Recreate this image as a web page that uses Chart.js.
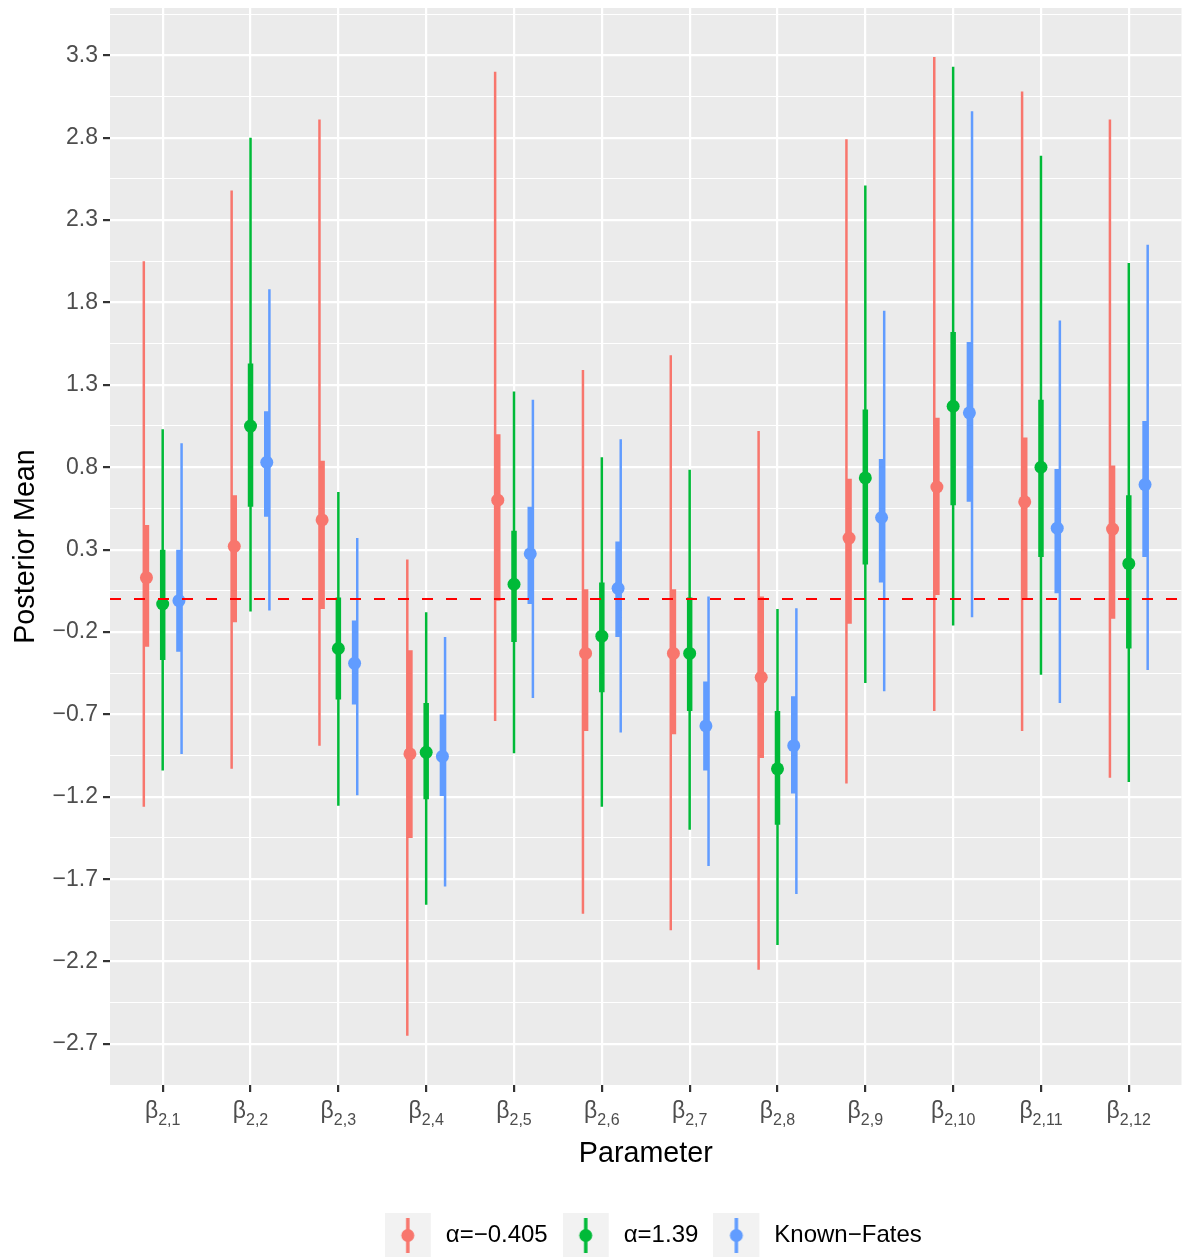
<!DOCTYPE html>
<html>
<head>
<meta charset="utf-8">
<script src="https://cdn.jsdelivr.net/npm/chart.js@4.4.1/dist/chart.umd.min.js"></script>
<style>
html, body { margin: 0; padding: 0; background: #fff; }
</style>
</head>
<body>
<canvas id="myChart" width="1188" height="1258"></canvas>
<script>
// parameter subscripts (beta_{2,k})
const params = ["2,1", "2,2", "2,3", "2,4", "2,5", "2,6", "2,7", "2,8", "2,9", "2,10", "2,11", "2,12"];
const seriesNames = ["α=−0.405", "α=1.39", "Known−Fates"];
const seriesColors = ["#F8766D", "#00BA38", "#619CFF"];

// alpha = -0.405
const redMean = [0.13, 0.32, 0.48, -0.94, 0.60, -0.33, -0.33, -0.475, 0.37, 0.68, 0.59, 0.425];
const redLo50 = [-0.29, -0.14, -0.06, -1.45, -0.01, -0.80, -0.82, -0.965, -0.15, 0.025, 0.005, -0.12];
const redHi50 = [0.45, 0.63, 0.84, -0.31, 1.00, 0.06, 0.06, 0.015, 0.73, 1.10, 0.98, 0.81];
const redLo95 = [-1.26, -1.03, -0.89, -2.65, -0.74, -1.91, -2.01, -2.25, -1.12, -0.68, -0.80, -1.085];
const redHi95 = [2.05, 2.48, 2.91, 0.24, 3.20, 1.39, 1.48, 1.02, 2.79, 3.29, 3.08, 2.91];

// alpha = 1.39
const greenMean = [-0.03, 1.05, -0.30, -0.93, 0.09, -0.225, -0.33, -1.03, 0.735, 1.17, 0.80, 0.215];
const greenLo50 = [-0.37, 0.56, -0.61, -1.215, -0.26, -0.565, -0.68, -1.37, 0.21, 0.57, 0.255, -0.30];
const greenHi50 = [0.30, 1.43, 0.01, -0.63, 0.415, 0.10, 0.01, -0.68, 1.15, 1.62, 1.21, 0.63];
const greenLo95 = [-1.04, -0.075, -1.255, -1.855, -0.935, -1.26, -1.40, -2.10, -0.51, -0.16, -0.46, -1.11];
const greenHi95 = [1.03, 2.80, 0.65, -0.08, 1.26, 0.86, 0.785, -0.06, 2.51, 3.23, 2.69, 2.04];

// known fates
const blueMean = [-0.01, 0.83, -0.39, -0.955, 0.275, 0.065, -0.77, -0.89, 0.495, 1.13, 0.43, 0.695];
const blueLo50 = [-0.32, 0.50, -0.64, -1.195, -0.03, -0.23, -1.04, -1.18, 0.10, 0.59, 0.035, 0.255];
const blueHi50 = [0.30, 1.14, -0.13, -0.70, 0.56, 0.35, -0.50, -0.59, 0.85, 1.56, 0.79, 1.08];
const blueLo95 = [-0.94, -0.07, -1.19, -1.745, -0.60, -0.81, -1.62, -1.79, -0.56, -0.11, -0.63, -0.43];
const blueHi95 = [0.945, 1.88, 0.37, -0.23, 1.21, 0.97, 0.015, -0.055, 1.75, 2.96, 1.69, 2.15];

const yTickValues = [-2.7, -2.2, -1.7, -1.2, -0.7, -0.2, 0.3, 0.8, 1.3, 1.8, 2.3, 2.8, 3.3];
const yTickLabels = ["−2.7", "−2.2", "−1.7", "−1.2", "−0.7", "−0.2", "0.3", "0.8", "1.3", "1.8", "2.3", "2.8", "3.3"];
const refLine = 0;

const FONT = "'Liberation Sans', Arial, Helvetica, sans-serif";
Chart.defaults.font.family = FONT;

const allSeries = [
    {mean: redMean, lo50: redLo50, hi50: redHi50, lo95: redLo95, hi95: redHi95},
    {mean: greenMean, lo50: greenLo50, hi50: greenHi50, lo95: greenLo95, hi95: greenHi95},
    {mean: blueMean, lo50: blueLo50, hi50: blueHi50, lo95: blueLo95, hi95: blueHi95}
];
// dodge offsets (thin lines sit a touch further out than points / thick bars)
const dodgeThin = [-0.215, 0, 0.215];
const dodgeThick = [-0.185, 0, 0.185];

function segments(lo, hi, off) {
    let pts = [];
    lo.forEach((l, i) => {
        pts.push({x: i + 1 + off, y: l});
        pts.push({x: i + 1 + off, y: hi[i]});
        pts.push({x: i + 1 + off, y: null});
    });
    return pts;
}

// legend key glyphs: grey key box, vertical line and dot
// (canvas is 3px wider than the box so the label sits a bit further right)
function makeGlyph(color) {
    let c = document.createElement("canvas");
    c.width = 49;
    c.height = 44;
    let g = c.getContext("2d");
    g.fillStyle = "#F2F2F2";
    g.fillRect(0, 0, 46, 44);
    g.strokeStyle = color;
    g.lineWidth = 3.5;
    g.beginPath();
    g.moveTo(23, 5);
    g.lineTo(23, 40);
    g.stroke();
    g.fillStyle = color;
    g.beginPath();
    g.arc(23, 22.5, 6.5, 0, Math.PI * 2);
    g.fill();
    return c;
}
const glyphs = seriesColors.map(makeGlyph);

let datasets = [];
// reference line on top
datasets.push({
    label: "ref",
    data: [{x: 0.4, y: refLine}, {x: 12.6, y: refLine}],
    borderColor: "#FF0000",
    borderWidth: 2,
    borderDash: [11, 13],
    pointRadius: 0,
    showLine: true
});
allSeries.forEach((s, k) => {
    datasets.push({
        label: seriesNames[k],
        data: s.mean.map((m, i) => ({x: i + 1 + dodgeThick[k], y: m})),
        showLine: false,
        pointRadius: 6.5,
        pointBorderWidth: 0,
        pointBackgroundColor: seriesColors[k],
        borderColor: seriesColors[k]
    });
});
allSeries.forEach((s, k) => {
    datasets.push({
        label: seriesNames[k] + " 50",
        data: segments(s.lo50, s.hi50, dodgeThick[k]),
        borderColor: seriesColors[k],
        borderWidth: 5.5,
        pointRadius: 0,
        spanGaps: false,
        showLine: true
    });
});
allSeries.forEach((s, k) => {
    datasets.push({
        label: seriesNames[k] + " 95",
        data: segments(s.lo95, s.hi95, dodgeThin[k]),
        borderColor: seriesColors[k],
        borderWidth: 2.5,
        pointRadius: 0,
        spanGaps: false,
        showLine: true
    });
});

// minor gridlines halfway between the labelled ones
let yAllTicks = [];
yTickValues.forEach((v, i) => {
    yAllTicks.push(v);
    yAllTicks.push(v + 0.25);
});

const panelPlugin = {
    id: "panel",
    afterLayout(chart) {
        // chart.js counts the trailing item padding when centring the legend
        chart.legend.left += 7.5;
        chart.legend.right += 7.5;
    },
    beforeDraw(chart) {
        const {ctx, chartArea} = chart;
        ctx.save();
        ctx.fillStyle = "#FFFFFF";
        ctx.fillRect(0, 0, chart.width, chart.height);
        ctx.fillStyle = "#EBEBEB";
        ctx.fillRect(chartArea.left, chartArea.top, chartArea.right - chartArea.left, chartArea.bottom - chartArea.top);
        ctx.restore();
    },
    afterDraw(chart) {
        // beta labels with subscripts
        const ctx = chart.ctx;
        const xs = chart.scales.x;
        ctx.save();
        ctx.fillStyle = "#4D4D4D";
        ctx.textBaseline = "alphabetic";
        ctx.textAlign = "left";
        params.forEach((p, i) => {
            let cx = xs.getPixelForValue(i + 1);
            ctx.font = "23px " + FONT;
            let wb = ctx.measureText("β").width;
            ctx.font = "16px " + FONT;
            let ws = ctx.measureText(p).width;
            let x0 = cx - (wb + ws) / 2;
            ctx.font = "23px " + FONT;
            ctx.fillText("β", x0, 1118);
            ctx.font = "16px " + FONT;
            ctx.fillText(p, x0 + wb, 1125);
        });
        ctx.restore();
    }
};

const myChart = new Chart(document.getElementById("myChart"), {
    type: "line",
    data: {datasets: datasets},
    plugins: [panelPlugin],
    options: {
        responsive: false,
        animation: false,
        layout: {padding: {top: 8, right: 1, left: 0, bottom: 1}},
        plugins: {
            tooltip: {enabled: false},
            legend: {
                position: "bottom",
                fullSize: false,
                labels: {
                    usePointStyle: true,
                    pointStyleWidth: 49,
                    boxHeight: 24,
                    padding: 15,
                    color: "#000000",
                    font: {size: 24},
                    generateLabels: () => seriesNames.map((name, i) => ({
                        text: name,
                        pointStyle: glyphs[i],
                        fillStyle: seriesColors[i],
                        strokeStyle: seriesColors[i],
                        lineWidth: 0,
                        hidden: false,
                        fontColor: "#000000",
                        datasetIndex: i + 1
                    }))
                }
            }
        },
        scales: {
            x: {
                type: "linear",
                min: 0.4,
                max: 12.6,
                afterBuildTicks: (s) => { s.ticks = params.map((p, i) => ({value: i + 1})); },
                ticks: {display: false},
                grid: {color: "#FFFFFF", lineWidth: 2.2, tickColor: "#333333", tickLength: 7, drawTicks: true},
                border: {display: false},
                title: {display: true, text: "Parameter", color: "#000000", font: {size: 28.7}, padding: {top: 0, bottom: 37}},
                afterFit: (s) => {
                    s.height = 123;
                    s.paddingLeft = 0;
                    s.paddingRight = 0;
                }
            },
            y: {
                type: "linear",
                min: -2.949,
                max: 3.587,
                afterBuildTicks: (s) => { s.ticks = yAllTicks.map(v => ({value: v})); },
                ticks: {
                    color: "#4D4D4D",
                    font: {size: 23},
                    padding: 5,
                    autoSkip: false,
                    callback: (v, i) => (i % 2 === 0 ? yTickLabels[i / 2] : "")
                },
                grid: {
                    color: "#FFFFFF",
                    lineWidth: (ctx) => (ctx.index % 2 === 0 ? 2.2 : 1.1),
                    tickColor: (ctx) => (ctx.index % 2 === 0 ? "#333333" : "rgba(0,0,0,0)"),
                    tickLength: 7,
                    drawTicks: true
                },
                border: {display: false},
                title: {display: true, text: "Posterior Mean", color: "#000000", font: {size: 28.7}, padding: {top: 9, bottom: 0}},
                afterFit: (s) => {
                    s.width = 110;
                    s.paddingTop = 0;
                    s.paddingBottom = 0;
                }
            }
        }
    }
});
</script>
</body>
</html>
